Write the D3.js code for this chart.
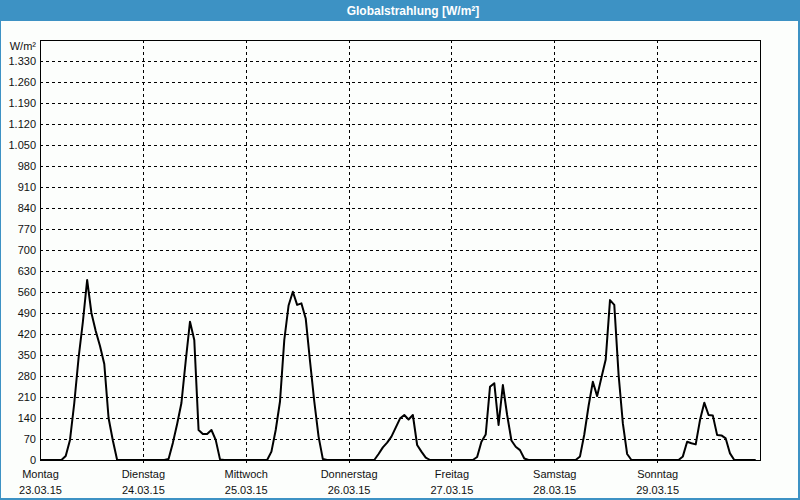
<!DOCTYPE html>
<html><head><meta charset="utf-8">
<script src="https://cdn.jsdelivr.net/npm/d3@7/dist/d3.min.js"></script>
<style>
html,body{margin:0;padding:0;background:#fcfefc;}
svg{display:block;}
text{font-family:"Liberation Sans",Arial,sans-serif;}
</style></head>
<body><svg id="c" width="800" height="500"></svg>
<script>
// ---- data (hourly values, W/m²) ----
const dayNames = ["Montag","Dienstag","Mittwoch","Donnerstag","Freitag","Samstag","Sonntag"];
const dayDates = ["23.03.15","24.03.15","25.03.15","26.03.15","27.03.15","28.03.15","29.03.15"];
const montag     = [0,0,0,0,0,0,13,67,190,340,460,600,490,430,380,320,140,65,0,0,0,0,0,0];
const dienstag   = [0,0,0,0,0,0,3,57,120,190,330,461,400,100,87,87,100,67,2,0,0,0,0,0];
const mittwoch   = [0,0,0,0,0,0,28,100,195,400,515,561,517,522,472,330,195,78,3,0,0,0,0,0];
const donnerstag = [0,0,0,0,0,0,0,20,42,58,78,108,138,150,135,150,50,28,8,0,0,0,0,0];
const freitag    = [0,0,0,0,0,0,10,61,85,244,256,117,250,150,65,44,33,5,0,0,0,0,0,0];
const samstag    = [0,0,0,0,0,0,12,85,180,261,213,275,335,533,517,285,122,20,0,0,0,0,0,0];
const sonntag    = [0,0,0,0,0,0,12,61,56,52,133,191,150,148,83,82,72,22,0,0,0,0,0,0];
const yTicks = d3.range(70, 1331, 70);
const title = "Globalstrahlung [W/m²]";
const unit = "W/m²";

const series = [montag,dienstag,mittwoch,donnerstag,freitag,samstag,sonntag];
const points = [];
series.forEach((arr,d)=>arr.forEach((v,h)=>points.push({t:d*24+h, v})));

const svg = d3.select("#c");
const W=800,H=500;
const L=40,R=760,T=40,B=460;
const x = d3.scaleLinear().domain([0,168]).range([L,R]);
const y = d3.scaleLinear().domain([0,1400]).range([B,T]);
const fmt = v => d3.format(",")(v).replace(/,/g,".");

// frame of window
svg.append("rect").attr("x",0).attr("y",0).attr("width",W).attr("height",H).attr("fill","#3d92c4");
svg.append("rect").attr("x",1).attr("y",21).attr("width",W-3).attr("height",H-23).attr("fill","#fcfefc");
svg.append("text").attr("x",413).attr("y",14.5).attr("text-anchor","middle")
  .attr("fill","#fff").attr("font-weight","bold").attr("font-size","12px").text(title);

const g = svg.append("g");
// horizontal grid
g.selectAll("line.hg").data(yTicks).join("line").attr("class","hg")
  .attr("x1",L).attr("x2",R).attr("y1",d=>Math.round(y(d))+0.5).attr("y2",d=>Math.round(y(d))+0.5)
  .attr("stroke","#000").attr("stroke-width",1).attr("stroke-dasharray","3,3").attr("shape-rendering","crispEdges");
// vertical grid
const days = d3.range(1,7);
g.selectAll("line.vg").data(days).join("line").attr("class","vg")
  .attr("x1",d=>Math.round(x(d*24))+0.5).attr("x2",d=>Math.round(x(d*24))+0.5)
  .attr("y1",T).attr("y2",B+3)
  .attr("stroke","#000").attr("stroke-width",1).attr("stroke-dasharray","3,3").attr("shape-rendering","crispEdges");

// y labels
const yl = g.append("g").attr("font-size","11px").attr("fill","#111").attr("text-anchor","end");
yl.selectAll("text").data([0].concat(yTicks)).join("text")
  .attr("x",36).attr("y",d=>y(d)).attr("dy","0.35em").text(fmt);
yl.append("text").attr("x",36).attr("y",46).attr("dy","0.35em").text(unit);

// x labels
const xl = g.append("g").attr("font-size","11px").attr("fill","#111").attr("text-anchor","middle");
xl.selectAll("text.dn").data(dayNames).join("text").attr("class","dn")
  .attr("x",(d,i)=>x(i*24)+0.5).attr("y",478).text(d=>d);
xl.selectAll("text.dd").data(dayDates).join("text").attr("class","dd")
  .attr("x",(d,i)=>x(i*24)+0.5).attr("y",494).text(d=>d);

// line
g.append("path").datum(points)
  .attr("d", d3.line().x(d=>x(d.t)).y(d=>y(d.v)))
  .attr("fill","none").attr("stroke","#000").attr("stroke-width",2).attr("stroke-linejoin","round");

// plot frame
g.append("rect").attr("x",L+0.5).attr("y",T+0.5).attr("width",R-L).attr("height",B-T)
  .attr("fill","none").attr("stroke","#000").attr("stroke-width",1).attr("shape-rendering","crispEdges");
</script></body></html>
